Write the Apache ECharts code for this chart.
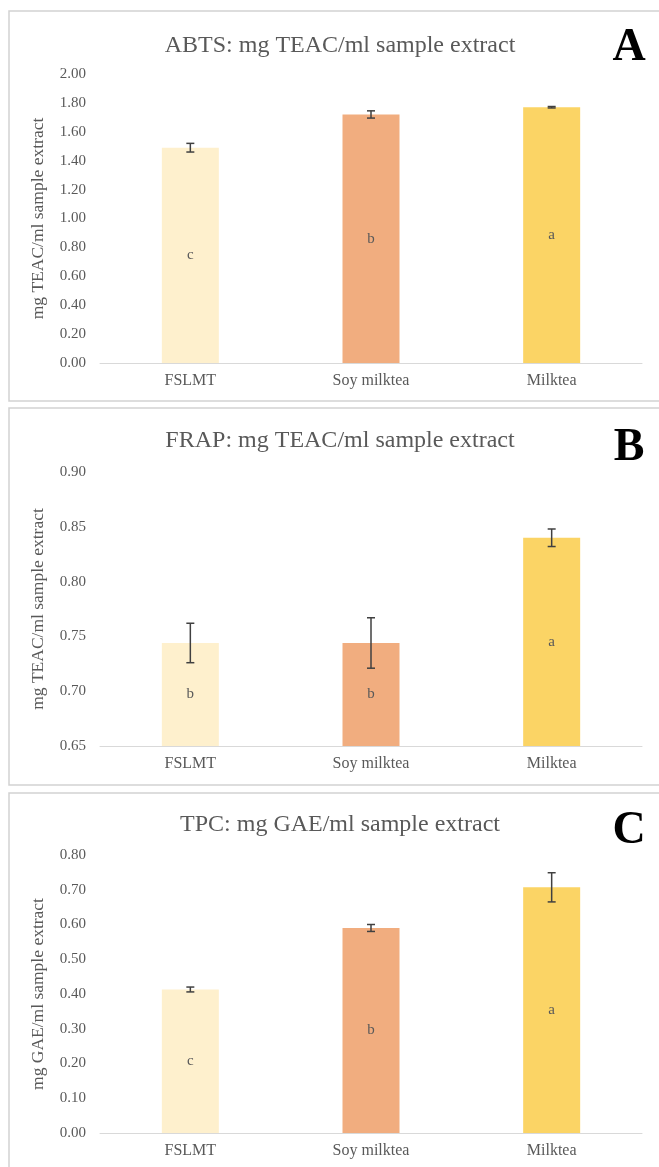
<!DOCTYPE html>
<html><head><meta charset="utf-8">
<script src="https://cdn.jsdelivr.net/npm/echarts@6/dist/echarts.min.js"></script>
<style>html,body{margin:0;padding:0;background:#fff}#c{width:659px;height:1167px}</style>
</head><body><div id="c"></div>
<script>
const categories = ['FSLMT', 'Soy milktea', 'Milktea'];

const abtsValues = [1.49, 1.72, 1.77];
const abtsErrors = [0.03, 0.025, 0.005];
const abtsLetters = ['c', 'b', 'a'];

const frapValues = [0.744, 0.744, 0.840];
const frapErrors = [0.018, 0.023, 0.008];
const frapLetters = ['b', 'b', 'a'];

const tpcValues = [0.413, 0.590, 0.707];
const tpcErrors = [0.007, 0.010, 0.042];
const tpcLetters = ['c', 'b', 'a'];

const panelTitles = ['ABTS: mg TEAC/ml sample extract', 'FRAP: mg TEAC/ml sample extract', 'TPC: mg GAE/ml sample extract'];
const panelTags = ['A', 'B', 'C'];
const yNames = ['mg TEAC/ml sample extract', 'mg TEAC/ml sample extract', 'mg GAE/ml sample extract'];
const yMins = [0, 0.65, 0];
const yMaxs = [2.0, 0.90, 0.80];
const yIntervals = [0.2, 0.05, 0.1];

const barColors = ['#FEF0CD', '#F1AD7F', '#FBD465'];

const FONT = '"Liberation Serif", "Times New Roman", serif';
const TXT = '#595959';

const panels = [
  {values: abtsValues, errors: abtsErrors, letters: abtsLetters},
  {values: frapValues, errors: frapErrors, letters: frapLetters},
  {values: tpcValues, errors: tpcErrors, letters: tpcLetters}
];

const grids = [
  {left: 100, right: 17, top: 74, height: 289},
  {left: 100, right: 17, top: 472, height: 274},
  {left: 100, right: 17, top: 855, height: 278}
];
const boxes = [
  {y: 11, h: 390},
  {y: 408, h: 377},
  {y: 793, h: 380}
];
const titleY = [29, 424, 808];
const tagY = [20, 420, 803];

function errRender(params, api) {
  const xi = api.value(0);
  const lo = api.coord([xi, api.value(1)]);
  const hi = api.coord([xi, api.value(2)]);
  const w = 4;
  const style = {stroke: '#404040', lineWidth: 1.5};
  return {type: 'group', children: [
    {type: 'line', shape: {x1: lo[0], y1: lo[1], x2: hi[0], y2: hi[1]}, style: style},
    {type: 'line', shape: {x1: lo[0] - w, y1: lo[1], x2: lo[0] + w, y2: lo[1]}, style: style},
    {type: 'line', shape: {x1: hi[0] - w, y1: hi[1], x2: hi[0] + w, y2: hi[1]}, style: style}
  ]};
}

const option = {
  backgroundColor: '#fff',
  animation: false,
  title: [],
  grid: grids,
  xAxis: [],
  yAxis: [],
  series: [],
  graphic: []
};

panels.forEach((p, k) => {
  option.title.push({
    text: panelTitles[k], left: 335, top: titleY[k], textAlign: 'center',
    textStyle: {fontFamily: FONT, fontSize: 24, fontWeight: 'normal', color: TXT}
  });
  option.title.push({
    text: panelTags[k], left: 624, top: tagY[k], textAlign: 'center',
    textStyle: {fontFamily: FONT, fontSize: 46, fontWeight: 'bold', color: '#000'}
  });
  option.graphic.push({
    type: 'rect', shape: {x: 9, y: boxes[k].y, width: 700, height: boxes[k].h},
    style: {fill: 'none', stroke: '#d2d2d2', lineWidth: 1.5}, silent: true
  });
  option.xAxis.push({
    type: 'category', gridIndex: k, data: categories,
    axisLine: {lineStyle: {color: '#d9d9d9', width: 1}},
    axisTick: {show: false},
    axisLabel: {fontFamily: FONT, fontSize: 16, color: TXT, margin: 10}
  });
  option.yAxis.push({
    type: 'value', gridIndex: k, min: yMins[k], max: yMaxs[k], interval: yIntervals[k],
    name: yNames[k], nameLocation: 'middle', nameGap: 53,
    nameTextStyle: {fontFamily: FONT, fontSize: 17.5, color: TXT},
    axisLine: {show: false}, axisTick: {show: false}, splitLine: {show: false},
    axisLabel: {fontFamily: FONT, fontSize: 15, color: TXT, margin: 14,
      formatter: v => v.toFixed(2)}
  });
  option.series.push({
    type: 'bar', xAxisIndex: k, yAxisIndex: k, barWidth: 57,
    data: p.values.map((v, i) => ({value: v, itemStyle: {color: barColors[i]}})),
    label: {show: true, position: 'inside', fontFamily: FONT, fontSize: 15, color: TXT,
      formatter: prm => p.letters[prm.dataIndex]}
  });
  option.series.push({
    type: 'custom', xAxisIndex: k, yAxisIndex: k, renderItem: errRender, z: 5,
    data: p.values.map((v, i) => [i, v - p.errors[i], v + p.errors[i]])
  });
});

const chart = echarts.init(document.getElementById('c'), null, {renderer: 'canvas'});
chart.setOption(option);
</script></body></html>
